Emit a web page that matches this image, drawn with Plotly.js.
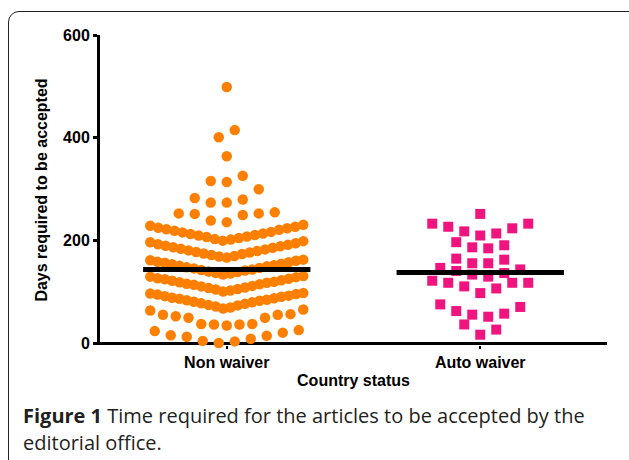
<!DOCTYPE html>
<html>
<head>
<meta charset="utf-8">
<script src="https://cdn.plot.ly/plotly-3.0.1.min.js"></script>
<style>
html,body{margin:0;padding:0;background:#fff;overflow:hidden;}
#chart{position:absolute;left:0;top:0;width:629px;height:460px;}
#frame{position:absolute;left:8px;top:11px;width:660px;height:480px;border:1.4px solid #231f20;border-radius:11px;box-sizing:border-box;pointer-events:none;}
</style>
</head>
<body>
<div id="chart"></div>
<div id="frame"></div>
<script>
// ---- data ----
const categories = ['Non waiver', 'Auto waiver'];
const nonWaiverDays = [
  1, 4, 5, 9, 13, 15, 16, 21, 24, 26,
  35, 37, 37, 38, 38, 50, 50, 53, 56, 56, 57, 64, 66,
  68, 70, 72, 74, 75, 77, 78, 80, 81, 83, 84, 85, 87, 88, 89, 91, 92, 93, 95, 96, 97, 98,
  101, 103, 105, 106, 108, 109, 111, 112, 114, 115, 116, 118, 119, 120, 122, 123, 125, 126, 127, 129, 130, 131,
  134, 136, 137, 139, 140, 142, 143, 144, 146, 147, 148, 150, 151, 152, 154, 155, 157, 158, 159, 161, 162, 163,
  167, 169, 170, 172, 174, 175, 177, 178, 180, 181, 183, 184, 186, 187, 189, 190, 192, 193, 195, 197, 199,
  200, 202, 203, 205, 207, 208, 210, 211, 213, 214, 216, 217, 219, 221, 222, 224, 225, 227, 229, 231,
  236, 239, 250, 252, 253, 253, 255,
  274, 274, 280, 283, 300,
  314, 316, 326,
  364,
  401, 415,
  499
];
const autoWaiverDays = [
  17, 27, 37,
  52, 56, 58, 63, 71, 76,
  98, 107, 111, 118, 118, 118, 122,
  130, 134, 137, 141, 144, 147,
  156, 156, 163, 165,
  185, 187, 191, 197,
  210, 214, 218, 224, 227, 233, 233,
  252
];
const medians = [144, 138];
const yTicks = [0, 200, 400, 600];

// ---- layout helpers (positions computed, not data) ----
const PLOT_W = 507; // px for 2 x-units
const PX_PER_X = PLOT_W / 2;

function swarmX(values, center, rowHeight, spacingPx, maxWidthPx, rightFirst) {
  const idx = values.map((v, i) => i).sort((a, b) => values[a] - values[b]);
  const xs = new Array(values.length);
  const spacing = spacingPx / PX_PER_X, maxWidth = maxWidthPx / PX_PER_X;
  let i = 0;
  while (i < idx.length) {
    const start = values[idx[i]];
    let j = i;
    while (j < idx.length && values[idx[j]] - start < rowHeight) j++;
    const row = idx.slice(i, j);
    const n = row.length;
    const step = n > 1 ? Math.min(spacing, maxWidth / (n - 1)) : spacing;
    row.forEach((k, r) => {
      let slot;
      if (n % 2 === 1) {
        if (r === 0) slot = 0;
        else slot = Math.ceil(r / 2) * ((r % 2 === 1) ? -1 : 1);
      } else {
        slot = (Math.floor(r / 2) + 0.5) * ((r % 2 === 0) ? -1 : 1);
      }
      if (rightFirst) slot = -slot;
      xs[k] = center + slot * step;
    });
    i = j;
  }
  return xs;
}

const nwX = swarmX(nonWaiverDays, 0, 33, 16, 153, false);
const awX = swarmX(autoWaiverDays, 1, 25, 16, 153, true);

const traces = [
  {type: 'scatter', mode: 'markers', x: nwX, y: nonWaiverDays, cliponaxis: false,
   marker: {symbol: 'circle', size: 10.5, color: '#FF8000', line: {width: 0}}, hoverinfo: 'y'},
  {type: 'scatter', mode: 'markers', x: awX, y: autoWaiverDays, cliponaxis: false,
   marker: {symbol: 'square', size: 10, color: '#F0147F', line: {width: 0}}, hoverinfo: 'y'},
  {type: 'scatter', mode: 'lines', x: [-0.33, 0.33], y: [medians[0], medians[0]],
   line: {color: '#000', width: 5}, hoverinfo: 'skip', cliponaxis: false},
  {type: 'scatter', mode: 'lines', x: [1 - 0.33, 1 + 0.33], y: [medians[1], medians[1]],
   line: {color: '#000', width: 5}, hoverinfo: 'skip', cliponaxis: false}
];

const M = {l: 100, r: 22, t: 35, b: 115};
const plotH = 460 - M.t - M.b;
function px2paperX(px) { return (px - M.l) / PLOT_W; }
function px2paperY(py) { return (460 - M.b - py) / plotH; }

const capFont = {family: 'Open Sans, Noto Sans, sans-serif', size: 20, color: '#231f20'};
const axFont = {family: 'Liberation Sans, Arial, sans-serif', size: 16, weight: 'bold', color: '#000'};

const layout = {
  width: 629, height: 460,
  margin: {l: M.l, r: M.r, t: M.t, b: M.b, pad: 0},
  paper_bgcolor: 'rgba(0,0,0,0)', plot_bgcolor: 'rgba(0,0,0,0)',
  showlegend: false,
  font: {family: 'Liberation Sans, Arial, sans-serif', color: '#000'},
  xaxis: {
    range: [-0.5, 1.5], tickvals: [0, 1], ticktext: categories,
    ticks: 'outside', ticklen: 3, tickwidth: 2, tickcolor: '#000',
    showline: false, zeroline: false, showgrid: false,
    tickfont: axFont,
    title: {text: 'Country status', font: axFont, standoff: 4},
    fixedrange: true
  },
  yaxis: {
    range: [-3, 600], tickvals: yTicks,
    ticks: 'outside', ticklen: 4, tickwidth: 3, tickcolor: '#000',
    showline: true, linewidth: 3, linecolor: '#000',
    zeroline: true, zerolinewidth: 3, zerolinecolor: '#000',
    showgrid: false,
    tickfont: axFont,
    title: {text: 'Days required to be accepted', font: axFont, standoff: 12},
    fixedrange: true
  },
  annotations: [
    {xref: 'paper', yref: 'paper', x: px2paperX(21), y: px2paperY(415), xanchor: 'left', yanchor: 'middle',
     showarrow: false, align: 'left', font: capFont,
     text: '<b>Figure 1</b> Time required for the articles to be accepted by the'},
    {xref: 'paper', yref: 'paper', x: px2paperX(21), y: px2paperY(442), xanchor: 'left', yanchor: 'middle',
     showarrow: false, align: 'left', font: capFont,
     text: 'editorial office.'}
  ]
};

Plotly.newPlot('chart', traces, layout, {staticPlot: true, displayModeBar: false});
</script>
</body>
</html>
